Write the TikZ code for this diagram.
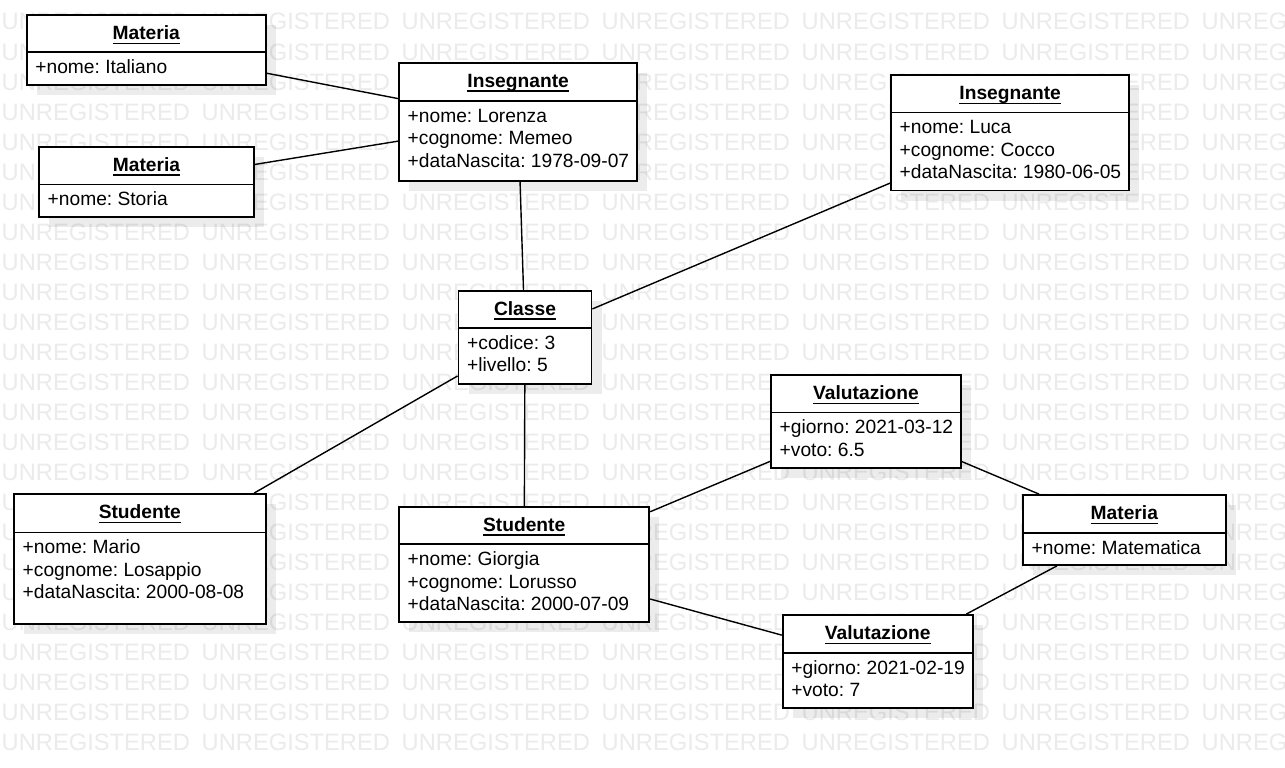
\documentclass[tikz,border=0pt]{standalone}
\usepackage{fontspec}
\setmainfont{Liberation Sans}
\usetikzlibrary{fit}
\frenchspacing

\definecolor{wmgray}{RGB}{235,235,235}
\newsavebox\ulsave
\newcommand\ulbox[1]{\sbox\ulsave{#1}\rlap{\rule[-4.2pt]{\wd\ulsave}{1.4pt}}\usebox\ulsave}

\tikzset{
  wmark/.style={anchor=base west, inner sep=0pt, text=wmgray,
    font=\fontsize{23.7}{24}\selectfont},
  objshadow/.style={fill=black, fill opacity=0.075},
  objbox/.style={draw=black, fill=white, line width=1.8pt, inner sep=0pt},
  objline/.style={draw=black, line width=1.6pt},
  objtitle/.style={anchor=base, inner sep=0pt,
    font=\fontsize{19.2}{22.5}\selectfont\bfseries},
  objattr/.style={anchor=base west, inner sep=0pt,
    font=\fontsize{19.2}{22.5}\selectfont},
  assoc/.style={draw=black, line width=1.4pt},
}

% object box: name, left, top, right, bottom, divider y, title, attribute list
\newcommand\umlobject[8]{%
  \fill[objshadow] (#2+10,#3+10) rectangle (#4+10,#5+10);
  \node[objbox, fit={(#2,#3) (#4,#5)}] (#1) {};
  \draw[objline] (#2,#6) -- (#4,#6);
  \node[objtitle] (#1-title) at ({(#2+#4)/2},#3+24.8) {\ulbox{#7}};
  \foreach \txt [count=\k from 0] in {#8}
    \node[objattr] (#1-attr\k) at (#2+8.5,#6+21.5+22.5*\k) {\txt};
}

\begin{document}
\begin{tikzpicture}[x=1pt, y=-1pt]
  \useasboundingbox (0,0) rectangle (1285,768);
  \clip (0,0) rectangle (1285,768);
  \fill[white] (0,0) rectangle (1285,768);

  % background watermark rows
  \foreach \r in {1,...,25}
    \foreach \c in {0,...,6}
      \node[wmark] (wm-\r-\c) at (200*\c+1.5, 30*\r) {UNREGISTERED};

  % objects
  \umlobject{mat1}{26.7}{15}{265.7}{85}{52.3}{Materia}{+nome: Italiano}
  \umlobject{mat2}{39}{146.7}{254}{217.3}{184.3}{Materia}{+nome: Storia}
  \umlobject{ins1}{399}{62.7}{637.3}{180.7}{100.7}{Insegnante}%
    {+nome: Lorenza, +cognome: Memeo, +dataNascita: 1978-09-07}
  \umlobject{ins2}{891}{75}{1129.3}{190.5}{112.3}{Insegnante}%
    {+nome: Luca, +cognome: Cocco, +dataNascita: 1980-06-05}
  \umlobject{cla}{458.5}{290.7}{591.5}{384}{327.7}{Classe}%
    {+codice: 3, +livello: 5}
  \umlobject{val1}{771}{375}{961}{467.7}{412.3}{Valutazione}%
    {+giorno: 2021-03-12, +voto: 6.5}
  \umlobject{mat3}{1023}{495}{1225.7}{565}{532.7}{Materia}{+nome: Matematica}
  \umlobject{val2}{782.7}{615}{972.7}{707.7}{652.7}{Valutazione}%
    {+giorno: 2021-02-19, +voto: 7}
  \umlobject{stu1}{14}{494}{265.7}{624}{532.3}{Studente}%
    {+nome: Mario, +cognome: Losappio, +dataNascita: 2000-08-08}
  \umlobject{stu2}{399}{506.7}{649.3}{622.3}{544}{Studente}%
    {+nome: Giorgia, +cognome: Lorusso, +dataNascita: 2000-07-09}

  % links
  \draw[assoc] (mat1) -- (ins1);
  \draw[assoc] (mat2) -- (ins1);
  \draw[assoc] (ins1) -- (cla);
  \draw[assoc] (ins2) -- (cla);
  \draw[assoc] (cla) -- (stu1);
  \draw[assoc] (cla) -- (stu2);
  \draw[assoc] (stu2) -- (val1);
  \draw[assoc] (stu2) -- (val2);
  \draw[assoc] (val1) -- (mat3);
  \draw[assoc] (mat3) -- (val2);
\end{tikzpicture}
\end{document}
